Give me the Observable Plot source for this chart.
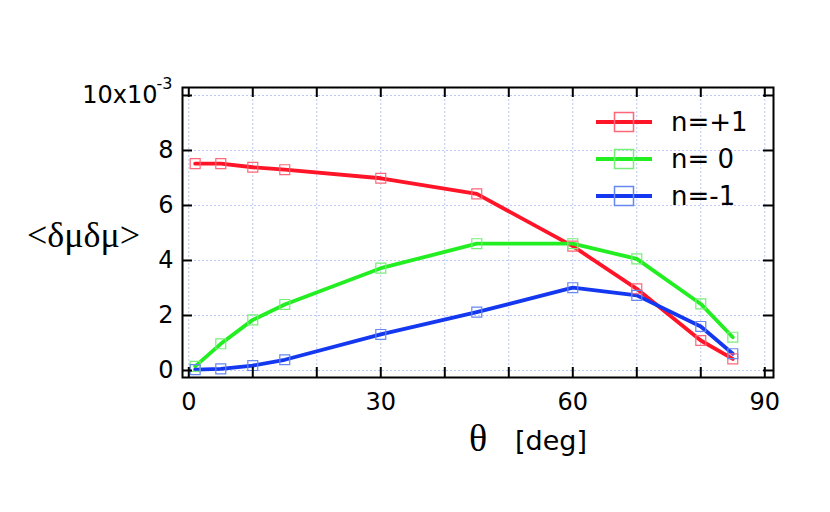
<!DOCTYPE html>
<html><head><meta charset="utf-8">
<script src="https://cdn.jsdelivr.net/npm/d3@7"></script>
<script src="https://cdn.jsdelivr.net/npm/@observablehq/plot@0.6"></script>
<style>
body{margin:0;background:#fff}
#wrap{position:relative;width:830px;height:512px}
#legend{position:absolute;left:0;top:0}
</style>
</head><body><div id="wrap"></div>
<script>
// ---- data ----
const theta = [1, 5, 10, 15, 30, 45, 60, 70, 80, 85];
const nPlus1 = [7.52, 7.52, 7.39, 7.30, 6.99, 6.42, 4.52, 2.97, 1.09, 0.42];
const nZero = [0.15, 0.97, 1.84, 2.40, 3.72, 4.61, 4.61, 4.06, 2.42, 1.21];
const nMinus1 = [0.03, 0.06, 0.18, 0.39, 1.31, 2.12, 3.01, 2.73, 1.60, 0.61];
const seriesNames = ["n=+1", "n= 0", "n=-1"];
const seriesValues = [nPlus1, nZero, nMinus1];
const lineColors = ["#ff1428", "#22ee22", "#1438f0"];
const markerColors = ["#ff6677", "#77ee77", "#6688f0"];
const xTickLabels = [0, 30, 60, 90];
const xTickMarks = [0, 10, 20, 30, 40, 50, 60, 70, 80, 90];
const yTickLabels = [0, 2, 4, 6, 8];
const yTickMarks = [0, 2, 4, 6, 8, 10];

// ---- layout ----
const W = 830, H = 512;
const mL = 182, mR = 57, mT = 87, mB = 135;
const innerW = W - mL - mR, innerH = H - mT - mB;
const tickLen = 10;
const gridColor = "#bcc8f4";
const sans = "DejaVu Sans";
const serif = "Liberation Serif";

const rows = seriesNames.flatMap((s, i) => theta.map((t, j) => ({series: s, theta: t, v: seriesValues[i][j]})));

const marks = [
  Plot.gridX(xTickMarks, {stroke: gridColor, strokeOpacity: 1, strokeDasharray: "2,2"}),
  Plot.gridY(yTickMarks, {stroke: gridColor, strokeOpacity: 1, strokeDasharray: "2,2"}),
];
seriesNames.forEach((s, i) => {
  const d = rows.filter(r => r.series === s);
  marks.push(Plot.line(d, {x: "theta", y: "v", stroke: lineColors[i], strokeWidth: 3.8}));
});
seriesNames.forEach((s, i) => {
  const d = rows.filter(r => r.series === s);
  marks.push(Plot.dot(d, {x: "theta", y: "v", symbol: "square", r: 5.6, stroke: markerColors[i], strokeWidth: 1.2, fill: "none"}));
});
marks.push(
  Plot.tickX(xTickMarks, {x: d => d, insetTop: innerH - tickLen, stroke: "black", strokeWidth: 2}),
  Plot.tickX(xTickMarks, {x: d => d, insetBottom: innerH - tickLen, stroke: "black", strokeWidth: 2}),
  Plot.tickY(yTickMarks, {y: d => d, insetRight: innerW - tickLen, stroke: "black", strokeWidth: 2}),
  Plot.tickY(yTickMarks, {y: d => d, insetLeft: innerW - tickLen, stroke: "black", strokeWidth: 2}),
  Plot.frame({stroke: "black", strokeWidth: 2}),
  Plot.axisX(xTickLabels, {anchor: "bottom", tickSize: 0, tickPadding: 15, fontSize: 24, fontFamily: sans, fill: "black", label: null}),
  Plot.axisY(yTickLabels, {anchor: "left", tickSize: 0, tickPadding: 9, fontSize: 24, fontFamily: sans, fill: "black", label: null}),
  Plot.text([10], {y: d => d, frameAnchor: "left", text: () => "10x10", dx: -25, textAnchor: "end", lineAnchor: "middle", fontSize: 24, fontFamily: sans, fill: "black"}),
  Plot.text([10], {y: d => d, frameAnchor: "left", text: () => "-3", dx: -10, dy: -12, textAnchor: "end", lineAnchor: "middle", fontSize: 16, fontFamily: sans, fill: "black"}),
  Plot.text(["θ"], {frameAnchor: "bottom", text: d => d, dy: 61, textAnchor: "middle", lineAnchor: "middle", fontSize: 38, fontFamily: serif, fill: "black"}),
  Plot.text(["[deg]"], {frameAnchor: "bottom", text: d => d, dx: 37, dy: 64, textAnchor: "start", lineAnchor: "middle", fontSize: 27, fontFamily: sans, fill: "black"}),
  Plot.text(["<δμδμ>"], {frameAnchor: "left", text: d => d, dx: -99, dy: 3, textAnchor: "middle", lineAnchor: "middle", fontSize: 36, fontFamily: serif, fill: "black"})
);

const chart = Plot.plot({
  width: W, height: H,
  marginLeft: mL, marginRight: mR, marginTop: mT, marginBottom: mB,
  style: {background: "white", overflow: "visible"},
  x: {domain: [-0.98, 91.36], axis: null},
  y: {domain: [-0.255, 10.29], axis: null},
  marks
});
document.getElementById("wrap").appendChild(chart);

// ---- legend (inside the frame, top right) ----
const leg = d3.select("#wrap").append("svg").attr("id", "legend").attr("width", W).attr("height", H);
seriesNames.forEach((s, i) => {
  const cy = 122 + i * 37;
  leg.append("line").attr("x1", 596).attr("x2", 652).attr("y1", cy).attr("y2", cy)
    .attr("stroke", lineColors[i]).attr("stroke-width", 4);
  leg.append("rect").attr("x", 624 - 9.5).attr("y", cy - 9.5).attr("width", 19).attr("height", 19)
    .attr("fill", "none").attr("stroke", markerColors[i]).attr("stroke-width", 1.5);
  leg.append("text").attr("x", 671).attr("y", cy).attr("dy", "0.36em")
    .attr("font-family", sans).attr("font-size", 26).attr("fill", "black")
    .attr("xml:space", "preserve").style("white-space", "pre").text(s);
});
</script>
</body></html>
